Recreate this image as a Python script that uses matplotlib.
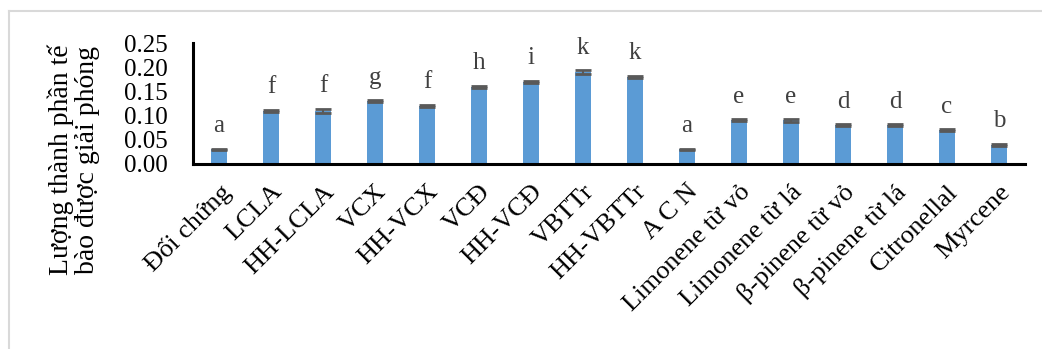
import matplotlib
matplotlib.use("Agg")
import matplotlib.pyplot as plt
from matplotlib.lines import Line2D

categories = ["Đối chứng", "LCLA", "HH-LCLA", "VCX", "HH-VCX", "VCĐ", "HH-VCĐ",
              "VBTTr", "HH-VBTTr", "A C N", "Limonene từ vỏ", "Limonene từ lá",
              "β-pinene từ vỏ", "β-pinene từ lá", "Citronellal", "Myrcene"]
values = [0.03, 0.11, 0.11, 0.13, 0.12, 0.16, 0.17, 0.19, 0.18, 0.03,
          0.09, 0.09, 0.08, 0.08, 0.07, 0.04]
errors = [0.002, 0.002, 0.004, 0.002, 0.002, 0.002, 0.002, 0.004, 0.002, 0.002,
          0.002, 0.003, 0.002, 0.002, 0.002, 0.002]
letters = ["a", "f", "f", "g", "f", "h", "i", "k", "k", "a", "e", "e", "d", "d", "c", "b"]
yticks = [0.00, 0.05, 0.10, 0.15, 0.20, 0.25]
ylabel = "Lượng thành phần tế\nbào được giải phóng"

plt.rcParams['font.family'] = ['Liberation Serif', 'DejaVu Serif']

fig = plt.figure(figsize=(10.42, 3.49), dpi=100)
ax = fig.add_axes([193/1042, 1-164/349, (1025-193)/1042, (164-43)/349])

x = list(range(len(categories)))
ax.bar(x, values, width=0.30, color='#5B9BD5', zorder=2)
ax.errorbar(x, values, yerr=errors, fmt='none', ecolor='#595959',
            elinewidth=1.5, capsize=5.6, capthick=2.0, zorder=3)
for xi, v, e, l in zip(x, values, errors, letters):
    ax.text(xi, v + e + 0.034, l, ha='center', va='baseline',
            fontsize=18, color='#404040')

ax.set_xlim(-0.5, len(categories) - 0.5)
ax.set_ylim(0, 0.25)
ax.set_yticks(yticks)
ax.set_yticklabels([f"{t:.2f}" for t in yticks], fontsize=18)
ax.tick_params(axis='y', length=0, pad=18)
ax.set_xticks(x)
ax.set_xticklabels(categories, rotation=45, ha='right', va='top',
                   rotation_mode='anchor', fontsize=19)
ax.tick_params(axis='x', length=0, pad=12)
for s in ['top', 'right']:
    ax.spines[s].set_visible(False)
for s in ['left', 'bottom']:
    ax.spines[s].set_linewidth(2.2)
    ax.spines[s].set_color('black')

fig.text(74/1042, 1-160/349, ylabel, rotation=90, ha='center', va='center',
         fontsize=20, linespacing=1.05, multialignment='center')

fig.add_artist(Line2D([9/1042, 1.0], [1-11/349, 1-11/349], color='#d9d9d9', lw=1.5,
                      transform=fig.transFigure))
fig.add_artist(Line2D([9/1042, 9/1042], [0, 1-11/349], color='#d9d9d9', lw=1.5,
                      transform=fig.transFigure))

fig.savefig("out.png", dpi=100)
